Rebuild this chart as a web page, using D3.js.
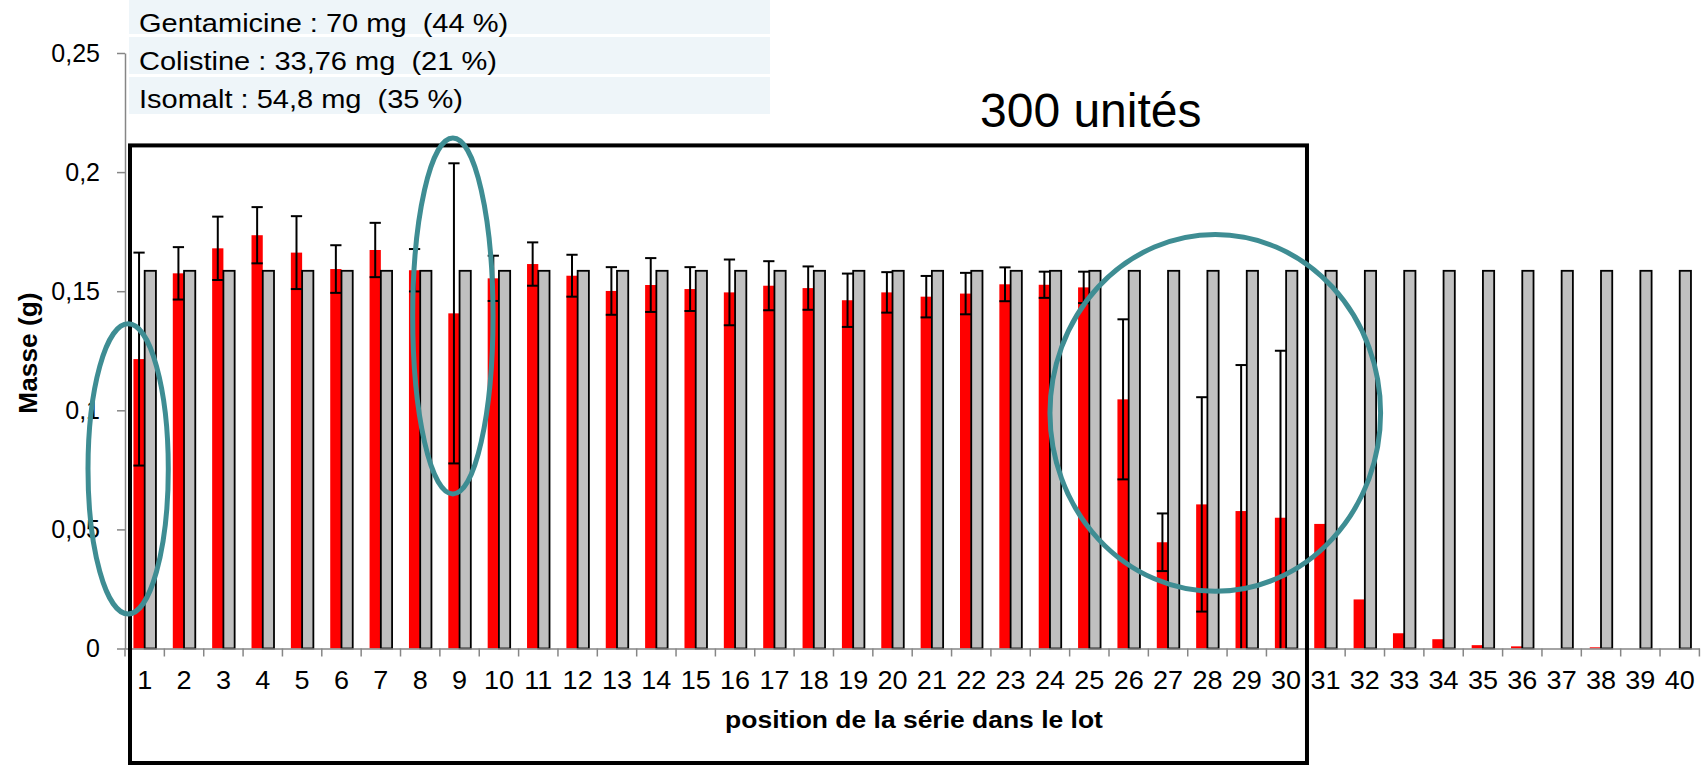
<!DOCTYPE html>
<html>
<head>
<meta charset="utf-8">
<script src="https://cdn.jsdelivr.net/npm/d3@7"></script>
<style>
  body { margin: 0; background: #fff; }
  text { font-family: "Liberation Sans", Arial, sans-serif; fill: #000; }
</style>
</head>
<body>
<svg id="chart" width="1708" height="765"></svg>
<script>
// position de la série dans le lot
var positions = d3.range(1, 41).map(String);

// masse mesurée (g), rouge
var masseMesuree = [0.1215, 0.1575, 0.168, 0.1735, 0.1662, 0.1593, 0.1673, 0.1588, 0.1407, 0.1554,
  0.1614, 0.1565, 0.1501, 0.1526, 0.1509, 0.1495, 0.1523, 0.1513, 0.1462, 0.1495,
  0.1477, 0.149, 0.1529, 0.1527, 0.1516, 0.1046, 0.0446, 0.0605, 0.0577, 0.0549,
  0.0523, 0.0206, 0.0064, 0.0039, 0.0014, 0.0009, 0, 0.0005, 0, 0];

// écart-type (g), null = pas de barre d'erreur
var ecartType = [0.0447, 0.011, 0.0133, 0.0118, 0.0153, 0.01, 0.0114, 0.0089, 0.063, 0.0095,
  0.0091, 0.0088, 0.01, 0.0113, 0.0092, 0.0138, 0.0103, 0.0091, 0.0112, 0.0085,
  0.0087, 0.0087, 0.0071, 0.0055, 0.0066, 0.0336, 0.0121, 0.045, 0.0613, 0.0701,
  null, null, null, null, null, null, null, null, null, null];

// masse théorique (g), gris : 70 + 33,76 + 54,8 mg
var masseTheorique = positions.map(() => 0.15856);

var yTicks = [0, 0.05, 0.1, 0.15, 0.2, 0.25];

var composition = ["Gentamicine : 70 mg  (44 %)", "Colistine : 33,76 mg  (21 %)", "Isomalt : 54,8 mg  (35 %)"];

// annotations : centre (rang, masse), rayons (rangs, masse)
var ellipses = [
  { pos: 0.08, val: 0.0754, rx: 1.02, ry: 0.0609 },
  { pos: 8.33, val: 0.1396, rx: 1.02, ry: 0.0747 },
  { pos: 27.7, val: 0.0989, rx: 4.2, ry: 0.0749 }
];

var width = 1708, height = 765;
var plotLeft = 125, plotRight = 1699.4, plotTop = 53, plotBottom = 648.5;
var fontSize = 25;

var svg = d3.select("#chart");

// the original text is a bit wider than Liberation Sans
function stretch(sel, sx) {
  sel.each(function () {
    var w = this.getComputedTextLength();
    d3.select(this).attr("textLength", w * sx).attr("lengthAdjust", "spacingAndGlyphs");
  });
}

var x = d3.scaleBand().domain(positions).range([plotLeft, plotRight]).padding(0);
var xPos = d3.scaleLinear().domain([0, positions.length]).range([plotLeft, plotRight]);
var sub = d3.scaleBand().domain(["mesure", "theorie"]).range([0, x.bandwidth()])
  .paddingInner(0).paddingOuter(0.75);
var y = d3.scaleLinear().domain([0, 0.25]).range([plotBottom, plotTop]);

// composition (en haut à gauche)
var legend = svg.append("g");
composition.forEach((label, i) => {
  legend.append("rect")
    .attr("x", 129).attr("y", i * 40 - 3)
    .attr("width", 641).attr("height", 37)
    .attr("fill", "#eef5f9");
  legend.append("text")
    .attr("x", 139).attr("y", 32 + i * 38.2)
    .style("font-size", "25px")
    .style("white-space", "pre")
    .text(label)
    .call(stretch, 1.16);
});

// axe Y
var yAxis = d3.axisLeft(y).tickValues(yTicks).tickSize(8).tickSizeOuter(0).tickPadding(17)
  .tickFormat(d => String(d).replace(".", ","));
var gy = svg.append("g").attr("transform", "translate(" + plotLeft + ",0)").call(yAxis);
gy.selectAll("path, line").attr("stroke", "#868686").attr("stroke-width", 1.5);
gy.selectAll("text").style("font-size", fontSize + "px").style("font-family", null);

// barres
var groups = svg.append("g").selectAll("g")
  .data(positions).enter()
  .append("g")
  .attr("transform", d => "translate(" + x(d) + ",0)");

groups.append("rect")
  .attr("x", sub("mesure"))
  .attr("y", (d, i) => y(masseMesuree[i]))
  .attr("width", sub.bandwidth())
  .attr("height", (d, i) => plotBottom - y(masseMesuree[i]))
  .attr("fill", "#ff0000");

groups.append("rect")
  .attr("x", sub("theorie"))
  .attr("y", (d, i) => y(masseTheorique[i]))
  .attr("width", sub.bandwidth())
  .attr("height", (d, i) => plotBottom - y(masseTheorique[i]))
  .attr("fill", "#c0c0c0")
  .attr("stroke", "#000")
  .attr("stroke-width", 1.8);

// barres d'erreur
var cx = sub("mesure") + sub.bandwidth() / 2;
var capW = sub.bandwidth() / 2;
groups.each(function (d, i) {
  var e = ecartType[i];
  if (e == null) return;
  var g = d3.select(this);
  var hi = masseMesuree[i] + e, lo = Math.max(0, masseMesuree[i] - e);
  g.append("line").attr("x1", cx).attr("x2", cx).attr("y1", y(hi)).attr("y2", y(lo))
    .attr("stroke", "#000").attr("stroke-width", 2);
  g.append("line").attr("x1", cx - capW).attr("x2", cx + capW).attr("y1", y(hi)).attr("y2", y(hi))
    .attr("stroke", "#000").attr("stroke-width", 2);
  if (masseMesuree[i] - e > 0) {
    g.append("line").attr("x1", cx - capW).attr("x2", cx + capW).attr("y1", y(lo)).attr("y2", y(lo))
      .attr("stroke", "#000").attr("stroke-width", 2);
  }
});

// axe X
var xAxis = d3.axisBottom(x).tickSize(0).tickPadding(23);
var gx = svg.append("g").attr("transform", "translate(0," + plotBottom + ")").call(xAxis);
gx.select(".domain").attr("stroke", "#868686").attr("stroke-width", 1.5);
gx.selectAll("text").style("font-size", fontSize + "px").style("font-family", null)
  .call(stretch, 1.08);
gx.selectAll(".bound")
  .data(d3.range(0, positions.length + 1)).enter()
  .append("line")
  .attr("class", "bound")
  .attr("x1", d => xPos(d)).attr("x2", d => xPos(d))
  .attr("y1", 0).attr("y2", 8)
  .attr("stroke", "#868686").attr("stroke-width", 1.5);

// titres des axes
svg.append("text")
  .attr("x", 914).attr("y", 728)
  .attr("text-anchor", "middle")
  .style("font-size", "23px").style("font-weight", "bold")
  .text("position de la série dans le lot")
  .call(stretch, 1.15);

svg.append("text")
  .attr("transform", "translate(37," + y(0.124) + ") rotate(-90)")
  .attr("text-anchor", "middle")
  .style("font-size", "25px").style("font-weight", "bold")
  .text("Masse (g)")
  .call(stretch, 1.05);

// cadre 300 unités
svg.append("rect")
  .attr("x", 130).attr("y", y(0.2112))
  .attr("width", xPos(30.03) - 130).attr("height", 763 - y(0.2112))
  .attr("fill", "none").attr("stroke", "#000").attr("stroke-width", 4);

svg.append("text")
  .attr("x", 980).attr("y", 127)
  .style("font-size", "48px")
  .text("300 unités");

// ellipses
svg.append("g").selectAll("ellipse")
  .data(ellipses).enter()
  .append("ellipse")
  .attr("cx", d => xPos(d.pos))
  .attr("cy", d => y(d.val))
  .attr("rx", d => xPos(d.rx) - xPos(0))
  .attr("ry", d => plotBottom - y(d.ry))
  .attr("fill", "none")
  .attr("stroke", "#3e8d93")
  .attr("stroke-width", 5);
</script>
</body>
</html>
